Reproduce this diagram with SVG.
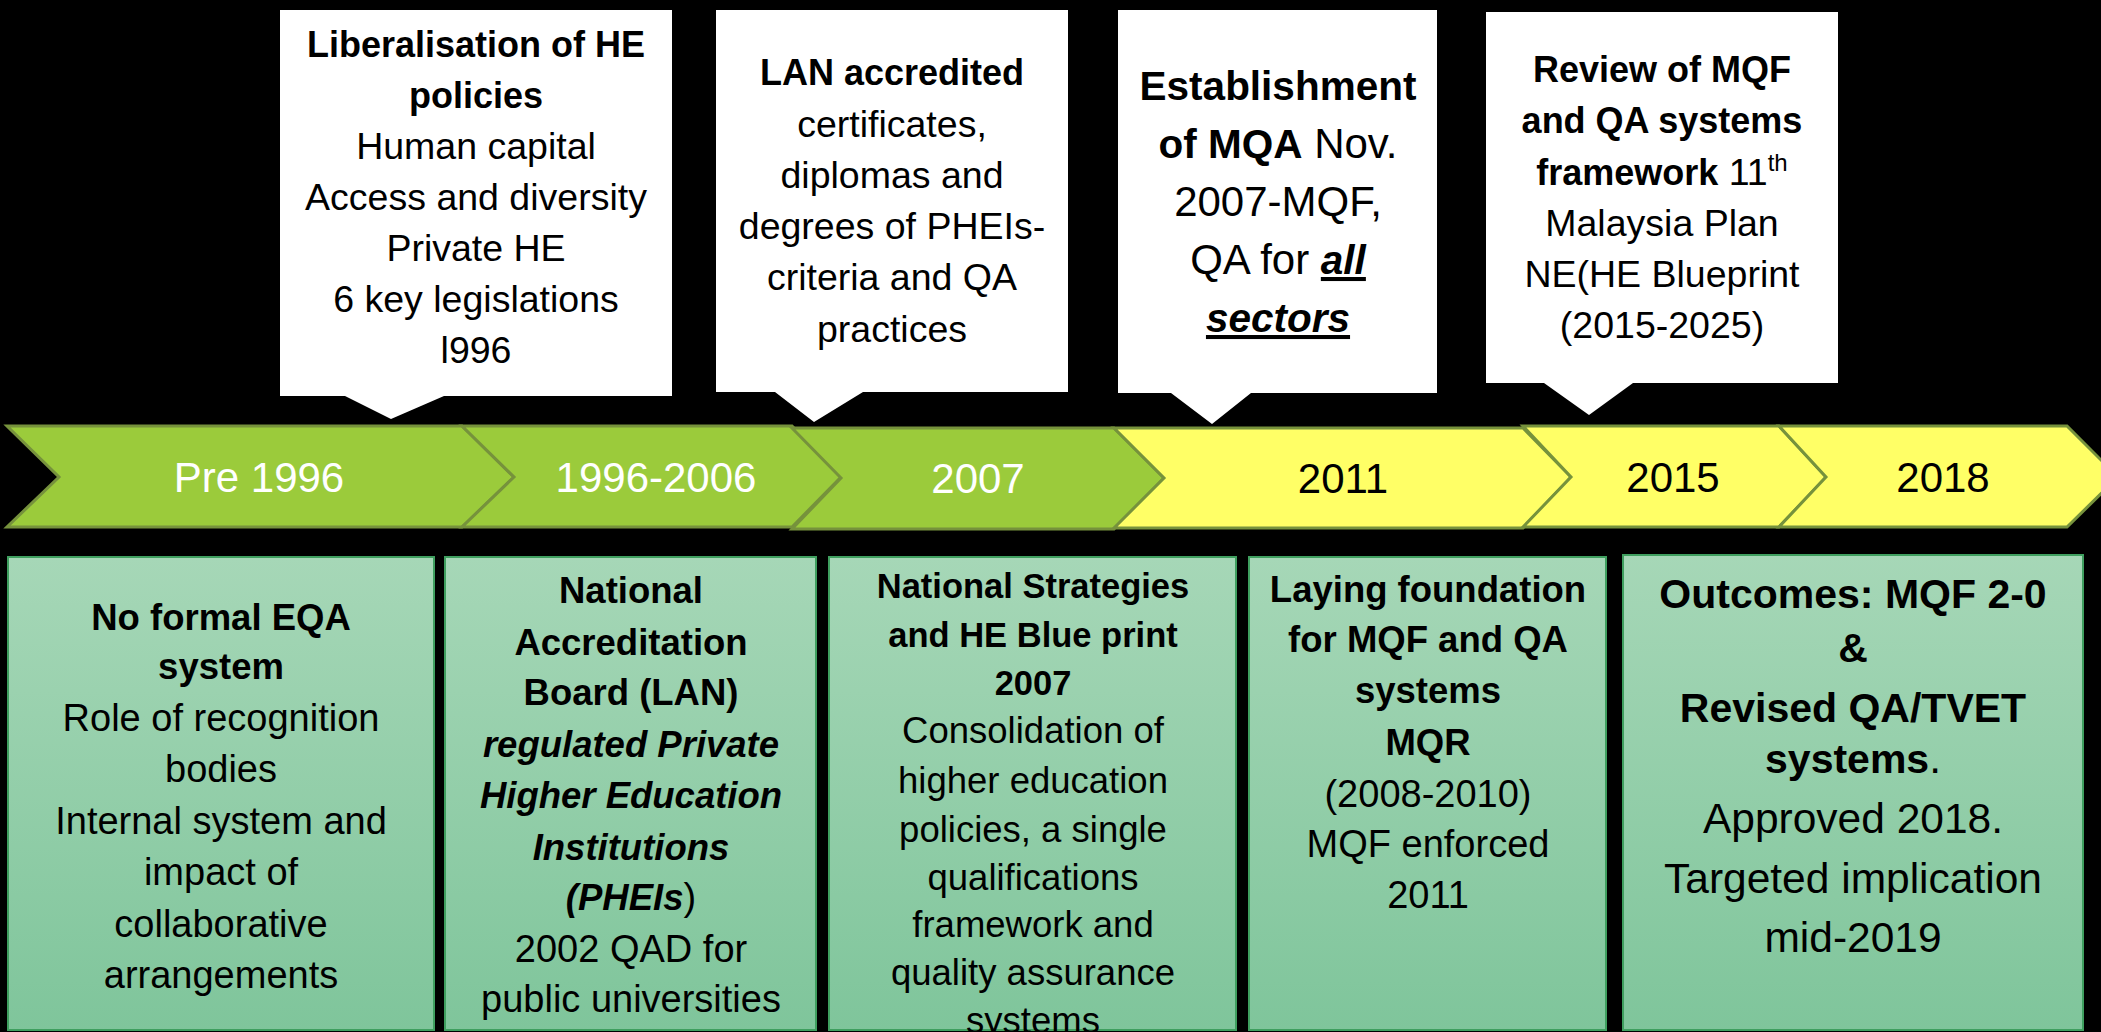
<svg xmlns="http://www.w3.org/2000/svg" width="2101" height="1032" viewBox="0 0 2101 1032">
<defs>
<linearGradient id="boxGrad" x1="0" y1="0" x2="0" y2="1">
<stop offset="0" stop-color="#A6D7B7"/>
<stop offset="1" stop-color="#7FC59B"/>
</linearGradient>
<style>
text{font-family:"Liberation Sans",Arial,sans-serif;text-anchor:middle;fill:#000}
.callout{fill:#FFFFFF}
.chevG{fill:#9BCB3B;stroke:#76923C;stroke-width:3;stroke-linejoin:miter}
.chevY{fill:#FFFF66;stroke:#76923C;stroke-width:3;stroke-linejoin:miter}
.chevT{font-size:42px}
.w{fill:#FFFFFF}
.box{fill:url(#boxGrad);stroke:#3F9F5F;stroke-width:2}
.r{font-weight:normal}
.b{font-weight:bold}
.bi{font-weight:bold;font-style:italic}
.u{text-decoration:underline}
.c{font-size:37.5px}
.cb{font-size:36px;font-weight:bold}
.c3{font-size:42px}
.c3b{font-size:40.5px;font-weight:bold}
.m{font-size:38px}
.mb{font-size:36.5px;font-weight:bold}
.s{font-size:36.5px}
.sb{font-size:34.5px;font-weight:bold}
.l{font-size:42.5px}
.lb{font-size:41px;font-weight:bold}
</style>
</defs>
<rect x="0" y="0" width="2101" height="1032" fill="#000000"/>

<g id="connectors"></g>

<!-- Timeline chevrons -->
<g id="chevron-pre1996">
<path class="chevG" d="M7,426 H462 L514,477 L462,527 H7 L59,477 Z"/>
<text class="chevT w" x="259" y="492">Pre 1996</text>
</g>
<g id="chevron-1996-2006">
<path class="chevG" d="M462,426 H792 L841,477 L792,527 H462 L514,477 Z"/>
<text class="chevT w" x="656" y="492">1996-2006</text>
</g>
<g id="chevron-2007">
<path class="chevG" d="M792,428 H1114 L1164,478 L1114,529 H792 L841,478 Z"/>
<text class="chevT w" x="978" y="493">2007</text>
</g>
<g id="chevron-2011">
<path class="chevY" d="M1114,428 H1523 L1571,477 L1523,528 H1114 L1164,478 Z"/>
<text class="chevT" x="1343" y="493">2011</text>
</g>
<g id="chevron-2015">
<path class="chevY" d="M1523,426 H1779 L1826,477 L1779,527 H1523 L1571,477 Z"/>
<text class="chevT" x="1673" y="492">2015</text>
</g>
<g id="chevron-2018">
<path class="chevY" d="M1779,426 H2067 L2118,477 L2067,527 H1779 L1826,477 Z"/>
<text class="chevT" x="1943" y="492">2018</text>
</g>

<!-- Callouts -->
<g id="callout-liberalisation">
<path class="callout" d="M280,10 H672 V396 H444 L391,419 L345,396 H280 Z"/>
<text class="cb" x="476" y="57">Liberalisation of HE</text>
<text class="cb" x="476" y="108">policies</text>
<text class="c" x="476" y="159">Human capital</text>
<text class="c" x="476" y="210">Access and diversity</text>
<text class="c" x="476" y="261">Private HE</text>
<text class="c" x="476" y="312">6 key legislations</text>
<text class="c" x="476" y="363">l996</text>
</g>
<g id="callout-lan">
<path class="callout" d="M716,10 H1068 V392 H863 L814,422 L775,392 H716 Z"/>
<text class="cb" x="892" y="85">LAN accredited</text>
<text class="c" x="892" y="137">certificates,</text>
<text class="c" x="892" y="188">diplomas and</text>
<text class="c" x="892" y="239">degrees of PHEIs-</text>
<text class="c" x="892" y="290">criteria and QA</text>
<text class="c" x="892" y="342">practices</text>
</g>
<g id="callout-mqa">
<path class="callout" d="M1118,10 H1437 V393 H1251 L1212,424 L1171,393 H1118 Z"/>
<text class="c3b" x="1278" y="100">Establishment</text>
<text class="c3" x="1278" y="158"><tspan class="b" style="font-size:40.5px">of MQA</tspan> Nov.</text>
<text class="c3" x="1278" y="216">2007-MQF,</text>
<text class="c3" x="1278" y="274">QA for <tspan class="bi u" style="font-size:40.5px">all</tspan></text>
<text class="c3b" x="1278" y="332"><tspan class="bi u">sectors</tspan></text>
</g>
<g id="callout-review">
<path class="callout" d="M1486,12 H1838 V383 H1633 L1589,415 L1544,383 H1486 Z"/>
<text class="cb" x="1662" y="82">Review of MQF</text>
<text class="cb" x="1662" y="133">and QA systems</text>
<text class="c" x="1662" y="185"><tspan class="b" style="font-size:36px">framework</tspan> 11<tspan style="font-size:24px" dy="-14">th</tspan></text>
<text class="c" x="1662" y="236">Malaysia Plan</text>
<text class="c" x="1662" y="287">NE(HE Blueprint</text>
<text class="c" x="1662" y="338">(2015-2025)</text>
</g>

<!-- Bottom boxes -->
<g id="box-pre1996">
<rect class="box" x="8" y="557" width="426" height="473"/>
<text class="mb" x="221" y="630">No formal EQA</text>
<text class="mb" x="221" y="679">system</text>
<text class="m" x="221" y="731">Role of recognition</text>
<text class="m" x="221" y="782">bodies</text>
<text class="m" x="221" y="834">Internal system and</text>
<text class="m" x="221" y="885">impact of</text>
<text class="m" x="221" y="937">collaborative</text>
<text class="m" x="221" y="988">arrangements</text>
</g>
<g id="box-1996-2006">
<rect class="box" x="445" y="557" width="371" height="473"/>
<text class="mb" x="631" y="603">National</text>
<text class="mb" x="631" y="655">Accreditation</text>
<text class="mb" x="631" y="705">Board (LAN)</text>
<text class="mb" x="631" y="757"><tspan class="bi">regulated Private</tspan></text>
<text class="mb" x="631" y="808"><tspan class="bi">Higher Education</tspan></text>
<text class="mb" x="631" y="860"><tspan class="bi">Institutions</tspan></text>
<text class="m" x="631" y="910"><tspan class="bi" style="font-size:36.5px">(PHEIs</tspan>)</text>
<text class="m" x="631" y="962">2002 QAD for</text>
<text class="m" x="631" y="1012">public universities</text>
</g>
<g id="box-2007">
<rect class="box" x="829" y="557" width="407" height="473"/>
<text class="sb" x="1033" y="598">National Strategies</text>
<text class="sb" x="1033" y="647">and HE Blue print</text>
<text class="sb" x="1033" y="695">2007</text>
<text class="s" x="1033" y="743">Consolidation of</text>
<text class="s" x="1033" y="793">higher education</text>
<text class="s" x="1033" y="842">policies, a single</text>
<text class="s" x="1033" y="890">qualifications</text>
<text class="s" x="1033" y="937">framework and</text>
<text class="s" x="1033" y="985">quality assurance</text>
<text class="s" x="1033" y="1033">systems</text>
</g>
<g id="box-2011">
<rect class="box" x="1249" y="557" width="357" height="473"/>
<text class="mb" x="1428" y="602">Laying foundation</text>
<text class="mb" x="1428" y="652">for MQF and QA</text>
<text class="mb" x="1428" y="703">systems</text>
<text class="mb" x="1428" y="755">MQR</text>
<text class="m" x="1428" y="807">(2008-2010)</text>
<text class="m" x="1428" y="857">MQF enforced</text>
<text class="m" x="1428" y="908">2011</text>
</g>
<g id="box-2018">
<rect class="box" x="1623" y="555" width="460" height="475"/>
<text class="lb" x="1853" y="608">Outcomes: MQF 2-0</text>
<text class="lb" x="1853" y="662">&amp;</text>
<text class="lb" x="1853" y="722">Revised QA/TVET</text>
<text class="l" x="1853" y="773"><tspan class="b" style="font-size:41px">systems</tspan>.</text>
<text class="l" x="1853" y="833">Approved 2018.</text>
<text class="l" x="1853" y="893">Targeted implication</text>
<text class="l" x="1853" y="952">mid-2019</text>
</g>
</svg>
